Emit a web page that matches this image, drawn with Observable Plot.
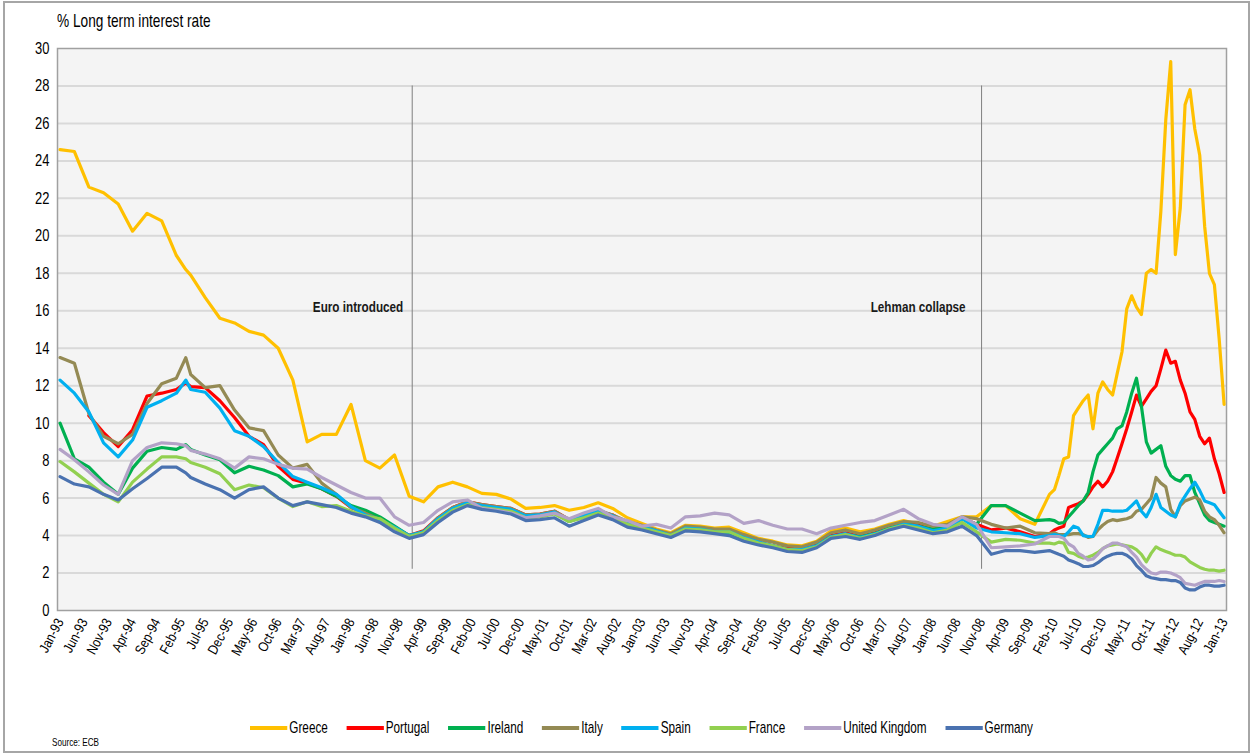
<!DOCTYPE html>
<html><head><meta charset="utf-8">
<script src="https://cdn.jsdelivr.net/npm/d3@7"></script>
<script src="https://cdn.jsdelivr.net/npm/@observablehq/plot@0.6"></script>
<style>
body{margin:0;background:#fff;}
#wrap{position:relative;width:1253px;height:755px;overflow:hidden;font-family:"Liberation Sans",Arial,sans-serif;color:#000;}
#frame{position:absolute;left:3px;top:1px;width:1247px;height:752px;border:2px solid #a6a6a6;box-sizing:border-box;}
#title{position:absolute;left:57px;top:10px;font-size:19px;white-space:nowrap;transform:scaleX(0.72);transform-origin:0 0;}
#chart{position:absolute;left:0;top:40px;}
#legend{position:absolute;left:250px;top:718px;display:flex;align-items:center;font-size:17px;white-space:nowrap;transform:scaleX(0.69);transform-origin:0 0;}
#legend .item{display:flex;align-items:center;margin-right:27px;}
#legend .sw{width:54px;height:4px;margin-right:3px;}
#source{position:absolute;left:52px;top:736px;font-size:11px;white-space:nowrap;transform:scaleX(0.74);transform-origin:0 0;}
#chart svg [aria-label="y-axis tick label"] text{font-size:17px;}
#chart svg [aria-label="x-axis tick label"] text{font-size:14px;}
</style>
</head><body>
<div id="wrap">
  <div id="frame"></div>
  <div id="title">% Long term interest rate</div>
  <div id="chart"></div>
  <div id="legend"></div>
  <div id="source">Source: ECB</div>
</div>
<script>
const FONT = '"Liberation Sans",Arial,sans-serif';

const months = [
"1993-01","1993-04","1993-07","1993-10",
"1994-01","1994-04","1994-07","1994-10",
"1995-01","1995-03","1995-04","1995-07","1995-10",
"1996-01","1996-04","1996-07","1996-10",
"1997-01","1997-04","1997-07","1997-10",
"1998-01","1998-04","1998-07","1998-10",
"1999-01","1999-04","1999-07","1999-10",
"2000-01","2000-04","2000-07","2000-10",
"2001-01","2001-04","2001-07","2001-10",
"2002-01","2002-04","2002-07","2002-10",
"2003-01","2003-04","2003-07","2003-10",
"2004-01","2004-04","2004-07","2004-10",
"2005-01","2005-04","2005-07","2005-10",
"2006-01","2006-04","2006-07","2006-10",
"2007-01","2007-04","2007-07","2007-10",
"2008-01","2008-04","2008-07","2008-10",
"2009-01","2009-04","2009-07","2009-10",
"2010-01","2010-02","2010-03","2010-04","2010-05","2010-06","2010-07","2010-08","2010-09","2010-10","2010-11","2010-12",
"2011-01","2011-02","2011-03","2011-04","2011-05","2011-06","2011-07","2011-08","2011-09","2011-10","2011-11","2011-12",
"2012-01","2012-02","2012-03","2012-04","2012-05","2012-06","2012-07","2012-08","2012-09","2012-10","2012-11","2012-12",
"2013-01"];

const greece = [
24.6,24.5,22.6,22.3,
21.7,20.25,21.2,20.8,
18.95,18.2,17.9,16.7,15.6,
15.35,14.9,14.7,14.0,
12.3,9.0,9.4,9.4,
11.0,8.0,7.6,8.3,
6.1,5.8,6.6,6.85,
6.6,6.25,6.2,5.95,
5.45,5.5,5.6,5.35,
5.5,5.75,5.45,4.95,
4.65,4.35,4.15,4.55,
4.5,4.4,4.45,4.15,
3.85,3.7,3.5,3.45,
3.7,4.25,4.4,4.2,
4.35,4.6,4.8,4.6,
4.5,4.75,5.0,5.0,
5.6,5.6,4.9,4.6,
6.2,6.45,7.2,8.1,8.2,10.4,10.8,11.2,11.5,9.7,11.6,12.2,
11.8,11.5,12.6,13.8,16.1,16.8,16.2,15.8,18.0,18.2,18.0,21.3,
26.2,29.3,19.0,21.5,27.0,27.8,25.7,24.3,20.5,18.0,17.4,14.5,
11.0];

const portugal = [
null,null,10.4,9.5,
8.75,9.65,11.45,11.6,
11.8,12.15,11.95,11.9,11.2,
10.3,9.3,8.85,7.7,
7.0,6.8,6.5,6.1,
5.5,5.2,4.95,4.45,
4.0,4.25,4.95,5.5,
5.8,5.65,5.55,5.45,
5.1,5.15,5.3,4.85,
5.1,5.3,5.1,4.65,
4.45,4.25,4.0,4.4,
4.35,4.2,4.2,3.9,
3.65,3.45,3.3,3.3,
3.5,4.0,4.15,3.95,
4.15,4.4,4.7,4.55,
4.3,4.5,4.95,4.6,
4.3,4.4,4.2,3.95,
4.1,4.3,4.4,4.5,5.5,5.6,5.7,5.85,6.2,6.6,6.9,6.6,
6.9,7.4,8.1,8.9,9.7,10.6,11.5,10.9,11.3,11.7,12.0,12.9,
13.9,13.2,13.3,12.3,11.6,10.6,10.2,9.3,8.9,9.2,8.1,7.3,
6.3];

const ireland = [
10.0,8.1,7.65,6.85,
6.2,7.6,8.5,8.7,
8.6,8.85,8.6,8.3,8.05,
7.35,7.7,7.5,7.2,
6.6,6.75,6.5,6.1,
5.6,5.35,5.0,4.5,
4.0,4.2,4.9,5.45,
5.75,5.6,5.5,5.35,
5.0,5.05,5.2,4.75,
5.0,5.25,5.0,4.6,
4.45,4.25,4.0,4.35,
4.35,4.2,4.15,3.85,
3.6,3.45,3.2,3.2,
3.45,3.95,4.05,3.95,
4.1,4.4,4.65,4.5,
4.35,4.5,4.9,4.6,
5.6,5.6,5.2,4.8,
4.85,4.8,4.65,4.7,5.0,5.3,5.6,5.85,6.3,7.4,8.3,8.6,
8.9,9.2,9.7,9.85,10.6,11.6,12.4,10.9,9.0,8.4,8.6,8.8,
7.7,7.2,7.0,6.9,7.2,7.2,6.3,5.7,5.1,4.8,4.7,4.6,
4.5];

const italy = [
13.5,13.2,10.5,9.3,
8.9,9.4,11.05,12.1,
12.4,13.5,12.6,11.9,12.0,
10.7,9.75,9.6,8.3,
7.6,7.8,6.8,6.2,
5.5,5.2,4.85,4.4,
4.0,4.2,4.95,5.5,
5.8,5.65,5.55,5.45,
5.1,5.15,5.3,4.85,
5.1,5.35,5.1,4.75,
4.55,4.3,4.1,4.5,
4.45,4.35,4.35,4.05,
3.8,3.65,3.45,3.4,
3.65,4.15,4.3,4.1,
4.3,4.55,4.75,4.7,
4.5,4.6,5.0,4.9,
4.6,4.4,4.5,4.15,
4.1,4.15,4.05,4.05,4.05,4.1,4.1,4.05,3.9,3.95,4.3,4.55,
4.75,4.85,4.8,4.85,4.9,5.0,5.3,5.4,5.7,6.0,7.1,6.8,
6.6,5.4,5.0,5.6,5.85,5.95,6.05,5.9,5.3,5.0,4.85,4.55,
4.15];

const spain = [
12.3,11.6,10.6,8.95,
8.2,9.1,10.85,11.2,
11.6,12.3,11.8,11.65,10.8,
9.6,9.3,8.75,7.9,
7.15,6.85,6.55,6.2,
5.55,5.1,4.85,4.45,
4.0,4.2,4.9,5.45,
5.75,5.6,5.5,5.4,
5.05,5.1,5.25,4.8,
5.05,5.3,5.05,4.65,
4.45,4.25,4.0,4.4,
4.35,4.2,4.2,3.9,
3.65,3.45,3.25,3.25,
3.45,3.95,4.1,3.9,
4.1,4.35,4.6,4.5,
4.25,4.4,4.9,4.4,
4.2,4.15,4.1,3.9,
4.0,4.05,4.0,3.95,4.2,4.5,4.4,4.0,3.95,3.95,4.6,5.35,
5.35,5.3,5.3,5.3,5.35,5.6,5.85,5.3,5.0,5.5,6.2,5.5,
5.3,5.1,5.0,5.7,6.1,6.5,6.85,6.4,5.85,5.75,5.65,5.3,
4.95];

const france = [
7.95,7.4,6.8,6.2,
5.8,6.85,7.55,8.2,
8.2,8.1,7.9,7.65,7.3,
6.45,6.7,6.55,6.0,
5.55,5.8,5.55,5.6,
5.3,5.05,4.9,4.4,
3.95,4.15,4.8,5.35,
5.65,5.5,5.4,5.3,
4.95,5.0,5.15,4.75,
4.95,5.2,4.95,4.6,
4.4,4.2,4.0,4.35,
4.3,4.2,4.2,3.85,
3.6,3.45,3.25,3.2,
3.4,3.9,4.05,3.85,
4.05,4.35,4.55,4.4,
4.15,4.3,4.7,4.2,
3.65,3.8,3.75,3.6,
3.6,3.55,3.65,3.6,3.1,3.05,2.9,2.8,2.85,2.95,3.1,3.3,
3.45,3.5,3.55,3.5,3.45,3.4,3.25,3.0,2.6,3.05,3.4,3.25,
3.15,3.05,2.95,2.95,2.85,2.6,2.45,2.3,2.2,2.15,2.15,2.1,
2.15];

const unitedKingdom = [
8.6,8.05,7.4,6.7,
6.2,8.0,8.7,8.95,
8.9,8.8,8.55,8.35,8.1,
7.6,8.2,8.1,7.8,
7.6,7.55,7.1,6.7,
6.3,6.0,6.0,5.0,
4.55,4.7,5.35,5.8,
5.9,5.45,5.35,5.2,
4.95,5.05,5.2,4.9,
5.2,5.45,5.0,4.8,
4.5,4.6,4.4,5.0,
5.05,5.2,5.1,4.65,
4.8,4.55,4.35,4.35,
4.1,4.4,4.55,4.7,
4.8,5.1,5.4,4.9,
4.6,4.5,5.0,4.6,
3.35,3.4,3.45,3.55,
3.95,3.95,3.95,3.85,3.55,3.4,3.05,2.9,2.7,2.75,3.0,3.3,
3.45,3.6,3.6,3.5,3.4,3.1,2.85,2.45,2.2,2.0,1.95,2.05,
2.05,2.0,1.9,1.75,1.45,1.4,1.35,1.45,1.55,1.55,1.55,1.6,
1.55];

const germany = [
7.15,6.75,6.6,6.2,
5.9,6.5,7.05,7.65,
7.65,7.35,7.1,6.75,6.45,
6.0,6.45,6.6,6.0,
5.6,5.8,5.65,5.5,
5.2,5.0,4.7,4.2,
3.85,4.05,4.7,5.25,
5.6,5.4,5.3,5.15,
4.8,4.85,4.95,4.5,
4.8,5.1,4.85,4.45,
4.3,4.1,3.9,4.25,
4.2,4.1,4.0,3.7,
3.5,3.35,3.15,3.1,
3.35,3.85,3.95,3.8,
4.0,4.3,4.5,4.3,
4.1,4.2,4.5,4.0,
3.0,3.2,3.2,3.1,
3.2,3.1,3.0,2.9,2.7,2.6,2.5,2.35,2.35,2.4,2.55,2.75,
2.9,3.0,3.05,3.05,2.95,2.75,2.4,2.15,1.85,1.75,1.7,1.65,
1.65,1.6,1.6,1.5,1.2,1.1,1.1,1.25,1.35,1.35,1.3,1.3,
1.35];

const seriesNames = ["Greece","Portugal","Ireland","Italy","Spain","France","United Kingdom","Germany"];
const seriesColors = ["#FFC000","#FF0000","#00B050","#948A54","#00B0F0","#92D050","#B3A2C7","#4A72B0"];
const seriesValues = [greece, portugal, ireland, italy, spain, france, unitedKingdom, germany];

const tickLabels = ["Jan-93","Jun-93","Nov-93","Apr-94","Sep-94","Feb-95","Jul-95","Dec-95","May-96","Oct-96","Mar-97","Aug-97","Jan-98","Jun-98","Nov-98","Apr-99","Sep-99","Feb-00","Jul-00","Dec-00","May-01","Oct-01","Mar-02","Aug-02","Jan-03","Jun-03","Nov-03","Apr-04","Sep-04","Feb-05","Jul-05","Dec-05","May-06","Oct-06","Mar-07","Aug-07","Jan-08","Jun-08","Nov-08","Apr-09","Sep-09","Feb-10","Jul-10","Dec-10","May-11","Oct-11","Mar-12","Aug-12","Jan-13"];
const yTicks = [0,2,4,6,8,10,12,14,16,18,20,22,24,26,28,30];
const gridValues = [2,4,6,8,10,12,14,16,18,20,22,24,26,28];

const events = [
  {date: "1999-01-20", label: "Euro introduced", dx: -9},
  {date: "2008-11-01", label: "Lehman collapse", dx: -16}
];

seriesValues.forEach((arr, i) => {
  if (arr.length !== months.length) throw new Error(seriesNames[i] + " has " + arr.length + " values, expected " + months.length);
});

const parseMonth = d3.utcParse("%Y-%m");
const parseDay = d3.utcParse("%Y-%m-%d");
const tickDates = tickLabels.map(d3.utcParse("%b-%y"));
const dates = months.map(parseMonth);
const eventData = events.map(e => ({...e, x: parseDay(e.date)}));

const lineMarks = seriesNames.map((name, i) => {
  const data = dates.map((d, j) => ({date: d, value: seriesValues[i][j]})).filter(d => d.value != null);
  return Plot.line(data, {x: "date", y: "value", stroke: seriesColors[i], strokeWidth: 3.2, strokeLinejoin: "round", strokeLinecap: "round"});
});

const chart = Plot.plot({
  width: 1253,
  height: 665,
  marginLeft: 57,
  marginRight: 27,
  marginTop: 8,
  marginBottom: 95,
  style: {fontFamily: FONT, fontSize: "13px", background: "transparent", color: "#000", overflow: "visible"},
  x: {type: "utc", domain: [parseDay("1992-12-16"), parseDay("2013-01-16")], ticks: tickDates, tickFormat: d3.utcFormat("%b-%y"), tickRotate: -62, tickSize: 0, tickPadding: 9, label: null},
  y: {domain: [0, 30], ticks: yTicks, tickSize: 0, tickPadding: 8, label: null},
  marks: [
    Plot.frame({fill: "#f4f4f4", stroke: "none"}),
    Plot.gridY(gridValues, {stroke: "#d9d9d9", strokeWidth: 2, strokeOpacity: 1}),
    Plot.frame({stroke: "#a0a0a0", strokeWidth: 1.5}),
    Plot.ruleX(eventData, {x: "x", y1: 2.2, y2: 28, stroke: "#7f7f7f", strokeWidth: 1}),
    Plot.text(eventData, {x: "x", y: 16.2, text: "label", textAnchor: "end", fontSize: 15, fontWeight: "bold", fill: "#1a1a1a"}),
    ...lineMarks
  ]
});
document.getElementById("chart").appendChild(chart);

// per-event horizontal offsets for labels
const evTexts = chart.querySelectorAll('[aria-label="text"] text');
evTexts.forEach((t, i) => { if (eventData[i]) t.setAttribute("dx", eventData[i].dx); });

// condense SVG text to mimic the narrow typeface of the original
function condense(nodes, factor) {
  nodes.forEach(t => {
    const len = t.getComputedTextLength();
    if (len > 0) {
      t.setAttribute("textLength", (len * factor).toFixed(1));
      t.setAttribute("lengthAdjust", "spacingAndGlyphs");
    }
  });
}
condense(chart.querySelectorAll('[aria-label="y-axis tick label"] text'), 0.76);
condense(chart.querySelectorAll('[aria-label="x-axis tick label"] text'), 0.85);
condense(evTexts, 0.78);

const legend = document.getElementById("legend");
seriesNames.forEach((name, i) => {
  const item = document.createElement("div");
  item.className = "item";
  const sw = document.createElement("div");
  sw.className = "sw";
  sw.style.background = seriesColors[i];
  const lab = document.createElement("span");
  lab.textContent = name;
  item.appendChild(sw);
  item.appendChild(lab);
  legend.appendChild(item);
});
</script>
</body></html>
